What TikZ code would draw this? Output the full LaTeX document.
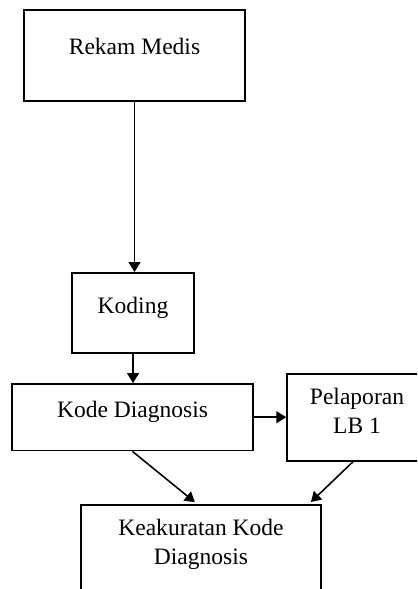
\documentclass[tikz,border=0pt]{standalone}
\usepackage{fontspec}
\setmainfont{Liberation Serif}
\usetikzlibrary{arrows.meta}

\tikzset{
  box/.style={draw, line width=0.8pt, inner ysep=0pt, anchor=north, align=center,
    font=\fontsize{12}{15}\selectfont},
  flow/.style={line width=0.8pt, -{Triangle[length=5pt,width=6pt]}}
}

\begin{document}
\begin{tikzpicture}[x=0.51pt, y=-0.51pt]
            \useasboundingbox (0,0) rectangle (417,589);
            \clip (0,0) rectangle (417,589);
            % kotak-kotak alur
            \node [box, minimum width=112.7pt, text height=22.95pt, text depth=23.46pt] (rekam) at (134.5,9) {Rekam Medis};
            \node [box, minimum width=62.2pt, text height=20.9pt, text depth=19.9pt] (koding) at (133,272) {Koding};
            \node [box, minimum width=122.9pt, text height=17.3pt, text depth=16.8pt] (kode) at (132.5,383) {Kode Diagnosis};
            \node [box, minimum width=71.4pt, text height=30.6pt, text depth=13.8pt] (lb) at (357,373) {Pelaporan\\LB 1};
            \node [box, minimum width=122.4pt, text height=30.6pt, text depth=28.6pt] (keak) at (201,504) {Keakuratan Kode\\Diagnosis};
            % panah
            \draw [flow] (rekam.south) -- (rekam.south |- koding.north);
            \draw [flow] (koding.south) -- (koding.south |- kode.north);
            \draw [flow] (kode.east) -- (kode.east -| lb.west);
            \draw [flow, shorten >=1.5pt] (kode.south) -- ([xshift=-2pt]keak.north);
            \draw [flow, shorten >=1.5pt] ([xshift=-2pt]lb.south) -- ([xshift=-6.6pt]keak.north east);
        \end{tikzpicture}
\end{document}
